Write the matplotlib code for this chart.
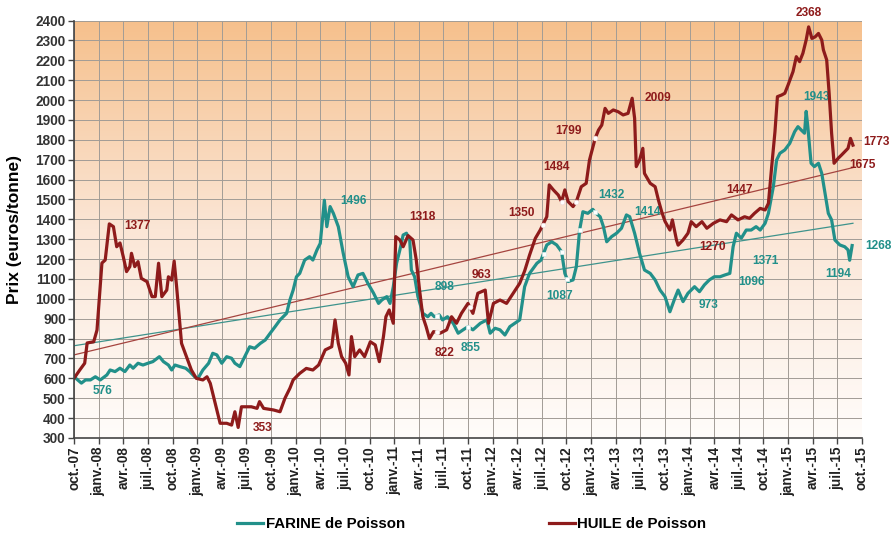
import matplotlib
matplotlib.use("Agg")
import matplotlib.pyplot as plt
import numpy as np
from matplotlib.colors import LinearSegmentedColormap


# mois depuis oct.-07 (0) ; prix en euros/tonne
HUILE_MOIS = [
    0.0, 0.7, 1.3, 1.6, 2.4, 2.8, 3.4, 3.8, 4.3, 4.8, 5.2, 5.6, 6.0, 6.4, 6.8, 7.0,
    7.4, 7.8, 8.2, 8.9, 9.5, 9.9, 10.3, 10.7, 11.3, 11.5, 11.9, 12.2, 12.5, 13.1, 13.7, 14.3,
    14.9, 15.7, 16.2, 16.6, 17.2, 17.8, 18.6, 19.2, 19.6, 20.0, 20.4, 20.8, 21.6, 22.3, 22.6, 23.1,
    24.3, 25.1, 25.7, 26.3, 26.7, 27.5, 28.3, 29.1, 29.8, 30.6, 31.0, 31.4, 31.8, 32.2, 32.6, 33.1,
    33.5, 33.8, 34.2, 34.8, 35.4, 36.1, 36.7, 37.2, 37.7, 38.0, 38.4, 38.9, 39.2, 39.7, 40.1, 40.7,
    41.3, 41.7, 42.1, 42.5, 42.9, 43.3, 43.8, 44.6, 45.4, 46.0, 46.6, 47.2, 48.0, 48.6, 49.2, 50.1,
    50.5, 51.1, 51.9, 52.7, 53.5, 54.3, 54.9, 55.5, 56.2, 56.8, 57.2, 57.6, 57.9, 58.4, 59.0, 59.4,
    59.8, 60.2, 60.8, 61.2, 61.8, 62.4, 62.8, 63.5, 63.9, 64.3, 64.7, 65.1, 65.7, 66.3, 66.9, 67.5,
    68.0, 68.3, 68.5, 68.9, 69.3, 69.5, 70.2, 70.8, 71.2, 71.6, 72.0, 72.6, 72.9, 73.4, 73.6, 74.2,
    74.8, 75.2, 75.8, 76.5, 77.1, 77.9, 78.7, 79.5, 80.1, 80.9, 81.7, 82.3, 82.9, 83.6, 84.2, 84.6,
    85.0, 85.4, 85.7, 86.2, 86.6, 87.0, 87.6, 88.0, 88.4, 88.8, 89.2, 89.5, 89.9, 90.3, 90.7, 91.1,
    91.3, 91.7, 92.0, 92.3, 92.6, 93.1, 93.5, 93.9, 94.3, 94.6, 94.9,
]
HUILE_PRIX = [
    600, 642, 676, 778, 784, 843, 1180, 1195, 1377, 1363, 1262, 1281, 1212, 1137, 1162, 1229,
    1162, 1187, 1103, 1086, 1011, 1011, 1179, 1011, 1044, 1111, 1094, 1190, 1061, 776, 709, 642,
    600, 592, 608, 575, 475, 374, 374, 365, 432, 353, 457, 457, 457, 449, 483, 449,
    441, 432, 500, 550, 592, 625, 650, 642, 667, 743, 751, 759, 894, 776, 709, 676,
    617, 810, 709, 743, 709, 784, 768, 684, 810, 910, 944, 877, 1313, 1296, 1262, 1318,
    1296, 1195, 1044, 910, 860, 800, 835, 827, 844, 910, 877, 927, 977, 927, 1028, 1044,
    877, 977, 994, 977, 1028, 1078, 1140, 1220, 1304, 1346, 1380, 1413, 1573, 1548, 1522, 1489,
    1548, 1489, 1464, 1489, 1564, 1581, 1698, 1808, 1849, 1874, 1958, 1933, 1950, 1941, 1925, 1933,
    2009, 1908, 1665, 1698, 1757, 1631, 1581, 1564, 1497, 1438, 1390, 1346, 1397, 1296, 1270, 1296,
    1330, 1388, 1363, 1388, 1355, 1380, 1397, 1388, 1422, 1397, 1413, 1405, 1430, 1455, 1447, 1480,
    1665, 1841, 2017, 2025, 2034, 2076, 2143, 2218, 2193, 2235, 2302, 2368, 2310, 2318, 2335, 2302,
    2252, 2202, 2034, 1833, 1682, 1707, 1723, 1740, 1757, 1807, 1773,
]

FARINE_MOIS = [
    0.0, 0.9, 1.4, 2.0, 2.6, 3.2, 4.0, 4.4, 5.0, 5.6, 6.2, 6.8, 7.2, 7.8, 8.4, 9.0,
    9.6, 10.4, 10.9, 11.5, 11.9, 12.3, 12.9, 13.6, 14.1, 14.7, 15.1, 15.7, 16.4, 16.9, 17.4, 18.0,
    18.6, 19.2, 19.6, 20.2, 20.8, 21.4, 22.0, 22.7, 23.3, 23.9, 24.5, 25.1, 25.9, 26.3, 26.7, 27.1,
    27.5, 28.1, 28.7, 29.1, 29.6, 30.0, 30.5, 30.8, 31.2, 31.6, 32.2, 32.8, 33.4, 34.0, 34.6, 35.2,
    35.8, 36.5, 37.1, 37.5, 38.1, 38.5, 38.9, 39.3, 39.7, 40.1, 40.5, 40.9, 41.1, 41.5, 41.9, 42.5,
    43.1, 43.5, 43.9, 44.5, 44.9, 45.5, 46.2, 46.8, 47.4, 48.0, 48.6, 49.5, 50.3, 50.7, 51.3, 51.9,
    52.5, 53.1, 53.7, 54.3, 54.9, 55.5, 56.4, 56.9, 57.6, 58.2, 58.8, 59.4, 59.8, 60.2, 60.8, 61.2,
    61.6, 62.0, 62.6, 63.2, 63.6, 64.1, 64.5, 64.9, 65.5, 66.1, 66.7, 67.3, 67.7, 68.3, 68.9, 69.5,
    70.2, 70.8, 71.4, 72.0, 72.6, 73.2, 73.6, 74.2, 74.8, 75.6, 76.2, 76.8, 77.4, 78.0, 78.7, 79.3,
    79.9, 80.3, 80.7, 81.3, 81.9, 82.5, 83.1, 83.6, 84.2, 84.6, 85.2, 85.6, 86.0, 86.6, 87.2, 87.8,
    88.2, 88.6, 89.0, 89.2, 89.4, 89.8, 90.2, 90.7, 91.1, 91.5, 91.9, 92.3, 92.7, 93.3, 93.9, 94.3,
    94.5, 94.8,
]
FARINE_PRIX = [
    608, 576, 592, 592, 608, 592, 617, 642, 634, 651, 634, 667, 651, 676, 667, 676,
    684, 709, 684, 667, 642, 667, 659, 651, 634, 608, 600, 642, 676, 726, 718, 676,
    709, 701, 676, 659, 709, 759, 751, 776, 793, 827, 860, 894, 927, 994, 1044, 1111,
    1128, 1195, 1212, 1195, 1246, 1279, 1496, 1363, 1464, 1430, 1363, 1229, 1111, 1061, 1120, 1128,
    1078, 1028, 977, 994, 1011, 977, 1061, 1179, 1246, 1321, 1330, 1296, 1145, 1111, 1011, 927,
    910, 927, 910, 919, 894, 910, 877, 827, 844, 860, 844, 877, 894, 827, 852, 844,
    818, 860, 877, 894, 1061, 1128, 1179, 1195, 1271, 1287, 1271, 1237, 1128, 1087, 1095, 1162,
    1346, 1438, 1430, 1450, 1430, 1413, 1363, 1287, 1313, 1330, 1355, 1422, 1413, 1330, 1229, 1145,
    1128, 1095, 1044, 1011, 935, 1003, 1044, 986, 1028, 1061, 1036, 1070, 1095, 1111, 1111, 1120,
    1128, 1262, 1330, 1305, 1346, 1346, 1363, 1346, 1380, 1430, 1564, 1698, 1732, 1749, 1782, 1841,
    1866, 1849, 1833, 1943, 1866, 1682, 1665, 1682, 1631, 1531, 1430, 1397, 1296, 1271, 1262, 1246,
    1194, 1268,
]

# droites de tendance (debut, fin)
TENDANCE_MOIS = [0.0, 94.9]
TENDANCE_HUILE = [718, 1660]
TENDANCE_FARINE = [764, 1380]

# petits repères blancs
REPERES_FARINE = [44.2, 48.0, 57.2, 59.4, 60.1, 61.6, 63.5]
REPERES_HUILE = [44.2, 48.2, 57.1, 59.4, 61.2, 63.5]

ETIQUETTES_X = []
for annee in range(7, 16):
    for mois in ["janv.", "avr.", "juil.", "oct."]:
        ETIQUETTES_X.append(f"{mois}-{annee:02d}")
ETIQUETTES_X = ETIQUETTES_X[3:36]  # oct.-07 ... oct.-15

VALEURS_HUILE = ["1377", "353", "1318", "822", "963", "1350", "1484", "1799",
                 "2009", "1447", "1270", "2368", "1773", "1675"]
VALEURS_FARINE = ["576", "1496", "898", "855", "1087", "1432", "1414",
                  "973", "1096", "1371", "1943", "1194", "1268"]

# positions des etiquettes (mois, prix)
POS_HUILE = [(7.7, 1366), (23.0, 350), (42.5, 1413), (45.2, 727), (49.6, 1120),
             (54.5, 1432), (58.8, 1663), (60.2, 1845), (71.1, 2008), (81.1, 1547),
             (77.8, 1262), (89.5, 2438), (97.8, 1790), (96.0, 1673)]
POS_FARINE = [(3.5, 537), (34.0, 1492), (45.2, 1058), (48.3, 753), (59.2, 1014),
              (65.5, 1522), (69.9, 1438), (77.3, 969), (82.5, 1086), (84.2, 1190),
              (90.4, 2016), (93.1, 1125), (98.0, 1266)]

COULEUR_FARINE = "#22908A"
COULEUR_HUILE = "#8E1B1B"


def fond_degrade(ax):
    cmap = LinearSegmentedColormap.from_list(
        "fond", ["#FFFCFA", "#FBE6D6", "#F6C08C"]
    )
    grad = np.linspace(0, 1, 256).reshape(-1, 1)
    ax.imshow(grad, cmap=cmap, aspect="auto", origin="lower",
              extent=[0, 1, 0, 1], transform=ax.transAxes, zorder=0)


def main():
    plt.rcParams["font.family"] = ["Liberation Sans", "DejaVu Sans"]
    fig = plt.figure(figsize=(8.95, 5.34), dpi=100)
    ax = fig.add_axes([0.0827, 0.1798, 0.8804, 0.7818])

    fond_degrade(ax)

    ax.plot(TENDANCE_MOIS, TENDANCE_FARINE, color="#3E938C", lw=0.9, zorder=3)
    ax.plot(TENDANCE_MOIS, TENDANCE_HUILE, color="#A5443F", lw=0.9, zorder=3)

    ax.plot(FARINE_MOIS, FARINE_PRIX, color=COULEUR_FARINE, lw=2.3, zorder=4,
            solid_joinstyle="round", label="FARINE de Poisson")
    ax.plot(HUILE_MOIS, HUILE_PRIX, color=COULEUR_HUILE, lw=2.3, zorder=5,
            solid_joinstyle="round", label="HUILE de Poisson")

    ax.plot(REPERES_FARINE, np.interp(REPERES_FARINE, FARINE_MOIS, FARINE_PRIX),
            "s", ms=3.4, mfc="white", mec="#d8ecea", mew=0.5, zorder=6)
    ax.plot(REPERES_HUILE, np.interp(REPERES_HUILE, HUILE_MOIS, HUILE_PRIX),
            "o", ms=3.4, mfc="white", mec="#f0dada", mew=0.5, zorder=6)

    for texte, (x, y) in zip(VALEURS_HUILE, POS_HUILE):
        ax.text(x, y, texte, color=COULEUR_HUILE, fontsize=8.6, fontweight="bold",
                ha="center", va="center", zorder=4, clip_on=False)
    for texte, (x, y) in zip(VALEURS_FARINE, POS_FARINE):
        ax.text(x, y, texte, color=COULEUR_FARINE, fontsize=8.6, fontweight="bold",
                ha="center", va="center", zorder=4, clip_on=False)

    ax.set_xlim(0, 96)
    ax.set_ylim(300, 2400)
    ax.set_xticks(np.arange(0, 97, 3))
    ax.set_xticklabels(ETIQUETTES_X, rotation=90, fontsize=9.8, fontweight="bold",
                       color="#222222")
    ax.set_yticks(np.arange(300, 2401, 100))
    ax.set_yticklabels([str(v) for v in range(300, 2401, 100)], fontsize=9.8,
                       fontweight="bold", color="#333333")
    ax.tick_params(axis="both", direction="out", length=4, width=1, color="#444444", pad=2)
    ax.grid(True, color="#a29c96", lw=0.7, zorder=1)
    ax.set_axisbelow(False)
    for line in ax.get_xgridlines() + ax.get_ygridlines():
        line.set_zorder(1)
    for s in ["top", "right"]:
        ax.spines[s].set_visible(False)
    for s in ["left", "bottom"]:
        ax.spines[s].set_color("#444444")
        ax.spines[s].set_linewidth(1.2)
        ax.spines[s].set_zorder(7)

    ax.set_ylabel("Prix (euros/tonne)", fontsize=12.5, fontweight="bold", labelpad=3)
    ax.yaxis.set_label_coords(-0.066, 0.5)

    fig.legend(loc="center", bbox_to_anchor=(0.527, 0.018), ncol=2, frameon=False,
               prop={"weight": "bold", "size": 10.8}, handlelength=1.75,
               handletextpad=0.15, columnspacing=9.6)

    fig.savefig("out.png", dpi=100)


if __name__ == "__main__":
    main()
